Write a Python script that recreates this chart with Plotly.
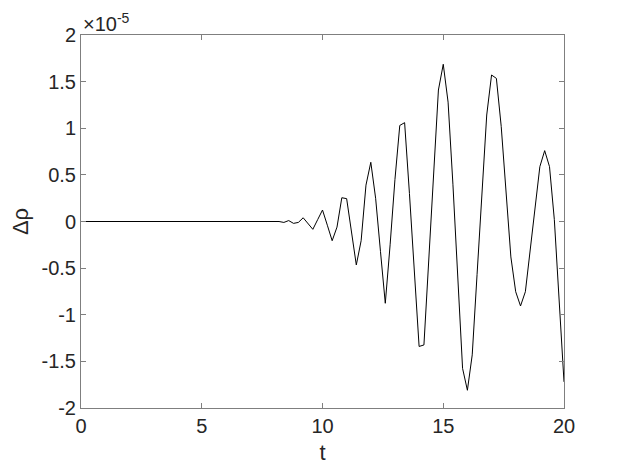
import plotly.graph_objects as go

# time samples (dt = 0.2)
t = [0.0, 0.2, 0.4, 0.6, 0.8, 1.0, 1.2, 1.4, 1.6, 1.8,
     2.0, 2.2, 2.4, 2.6, 2.8, 3.0, 3.2, 3.4, 3.6, 3.8,
     4.0, 4.2, 4.4, 4.6, 4.8, 5.0, 5.2, 5.4, 5.6, 5.8,
     6.0, 6.2, 6.4, 6.6, 6.8, 7.0, 7.2, 7.4, 7.6, 7.8,
     8.0, 8.2, 8.4, 8.6, 8.8, 9.0, 9.2, 9.4, 9.6, 9.8,
     10.0, 10.2, 10.4, 10.6, 10.8, 11.0, 11.2, 11.4, 11.6, 11.8,
     12.0, 12.2, 12.4, 12.6, 12.8, 13.0, 13.2, 13.4, 13.6, 13.8,
     14.0, 14.2, 14.4, 14.6, 14.8, 15.0, 15.2, 15.4, 15.6, 15.8,
     16.0, 16.2, 16.4, 16.6, 16.8, 17.0, 17.2, 17.4, 17.6, 17.8,
     18.0, 18.2, 18.4, 18.6, 18.8, 19.0, 19.2, 19.4, 19.6, 19.8,
     20.0]

# delta rho, in units of 1e-5
drho = [0, 0, 0, 0, 0, 0, 0, 0, 0, 0,
        0, 0, 0, 0, 0, 0, 0, 0, 0, 0,
        0, 0, 0, 0, 0, 0, 0, 0, 0, 0,
        0, 0, 0, 0, 0, 0, 0, 0, 0, 0,
        0.0, 0.0, -0.01, 0.01, -0.02, -0.01, 0.04, -0.02, -0.084, 0.02,
        0.123, -0.04, -0.206, -0.06, 0.255, 0.245, -0.13, -0.466, -0.206, 0.39,
        0.635, 0.249, -0.32, -0.877, -0.25, 0.45, 1.03, 1.06, 0.3, -0.55,
        -1.34, -1.324, -0.41, 0.5, 1.41, 1.686, 1.28, 0.4, -0.6, -1.575,
        -1.81, -1.43, -0.57, 0.29, 1.142, 1.571, 1.535, 1.02, 0.3, -0.38,
        -0.753, -0.906, -0.753, -0.3, 0.15, 0.588, 0.76, 0.588, 0.02, -0.85,
        -1.72]

x_ticks = [0, 5, 10, 15, 20]
y_ticks = [-2, -1.5, -1, -0.5, 0, 0.5, 1, 1.5, 2]
y_ticktext = ["-2", "-1.5", "-1", "-0.5", "0", "0.5", "1", "1.5", "2"]

FONT = "Liberation Sans, Arial, Helvetica, sans-serif"
AXIS_COLOR = "#7f7f7f"
TEXT_COLOR = "#262626"

fig = go.Figure(go.Scatter(
    x=t,
    y=drho,
    mode="lines",
    line=dict(color="black", width=1),
    showlegend=False,
))

axis_common = dict(
    showline=True,
    linecolor=AXIS_COLOR,
    linewidth=1,
    mirror="ticks",
    ticks="inside",
    ticklen=5,
    tickcolor=AXIS_COLOR,
    showgrid=False,
    zeroline=False,
    automargin=False,
    tickfont=dict(family=FONT, size=20, color=TEXT_COLOR),
)

# the page body adds an 8px offset, so the figure is 8px smaller and margins shifted
fig.update_layout(
    width=615,
    height=459,
    paper_bgcolor="white",
    plot_bgcolor="white",
    margin=dict(l=73, r=59, t=27, b=59),
    font=dict(family=FONT, color=TEXT_COLOR),
    xaxis=dict(
        range=[0, 20],
        tickvals=x_ticks,
        title=dict(text="t", font=dict(family=FONT, size=22, color=TEXT_COLOR), standoff=8),
        **axis_common,
    ),
    yaxis=dict(
        range=[-2, 2],
        tickvals=y_ticks,
        ticktext=y_ticktext,
        title=dict(text="Δρ", font=dict(family=FONT, size=22, color=TEXT_COLOR), standoff=6),
        **axis_common,
    ),
    annotations=[dict(
        text="×10<sup>-5</sup>",
        xref="paper", yref="paper",
        x=0, y=1,
        xanchor="left", yanchor="bottom",
        yshift=-2,
        showarrow=False,
        font=dict(family=FONT, size=20, color=TEXT_COLOR),
    )],
)

fig.write_html("out.html")
